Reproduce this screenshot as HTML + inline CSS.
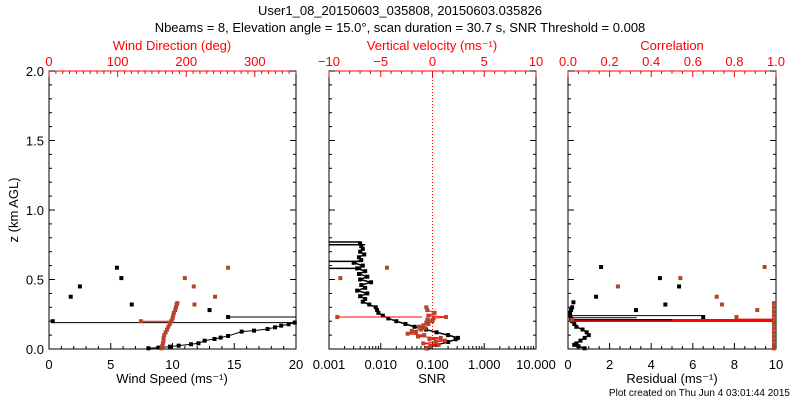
<!DOCTYPE html>
<html><head><meta charset="utf-8"><style>
body{margin:0;background:#fff}
svg{display:block;font-family:"Liberation Sans",sans-serif}
</style></head><body>
<svg id="c" width="800" height="400" viewBox="0 0 800 400">
<text x="400" y="15" text-anchor="middle" font-size="13">User1_08_20150603_035808, 20150603.035826</text>
<text x="400" y="32" text-anchor="middle" font-size="13">Nbeams = 8, Elevation angle = 15.0°, scan duration = 30.7 s, SNR Threshold = 0.008</text>
<text x="790" y="396" text-anchor="end" font-size="10">Plot created on Thu Jun  4 03:01:44 2015</text>
</svg>
<script>
// ---- data ----
const wsScZ=[0.2,0.376,0.45,0.585,0.51,0.32,0.28,0.23];
const wsSc=[0.3,1.76,2.5,5.5,5.86,6.7,13.0,14.5];
const wsProfZ=[0.005,0.01,0.017,0.024,0.034,0.041,0.06,0.072,0.082,0.094,0.125,0.132,0.144,0.156,0.168,0.178,0.19];
const wsProf=[8.05,8.85,9.8,10.5,11.5,12.1,12.6,13.4,13.9,14.5,15.6,16.6,17.7,18.3,18.8,19.4,19.9];
const wsLinkZ=[0.19,0.23];
const wsLinkX0=[0.3,14.5];
const wsLinkX1=[20,20];
const dirZ=[0.005,0.02,0.04,0.06,0.08,0.1,0.12,0.14,0.16,0.18,0.2,0.22,0.24,0.26,0.28,0.3,0.32,0.33];
const dirV=[164,165,166,167,167,168,170,172,174,176,178,180,181,182,184,185,186,187];
const dirScZ=[0.2,0.51,0.45,0.32,0.376,0.585];
const dirSc=[134,198,211,212,242,261];
const snrZ=[0.005,0.03,0.05,0.07,0.08,0.1,0.12,0.14,0.16,0.18,0.2,0.22,0.24,0.26,0.28,0.3,0.32,0.34,0.36,0.38,0.4,0.42,0.44,0.46,0.48,0.5,0.52,0.54,0.56,0.58,0.6,0.62,0.64,0.66,0.68,0.7,0.72,0.74,0.76];
const snrV=[0.078,0.12,0.2,0.28,0.31,0.2,0.12,0.075,0.045,0.03,0.02,0.014,0.011,0.009,0.0085,0.008,0.006,0.0045,0.005,0.004,0.0055,0.0035,0.005,0.0042,0.0065,0.004,0.0055,0.0038,0.005,0.0035,0.0045,0.003,0.0042,0.0038,0.0048,0.004,0.0045,0.0042,0.004];
const snrOffZ=[0.77,0.75,0.63,0.58];
const snrOffV=[0.004,0.005,0.0045,0.0042];
const wZ=[0.005,0.02,0.03,0.04,0.05,0.06,0.07,0.08,0.09,0.1,0.11,0.12,0.13,0.14,0.15,0.16,0.17,0.18,0.19,0.2,0.21,0.22,0.23,0.24,0.26,0.28,0.3];
const wV=[-0.6,-0.2,0.6,-0.9,0.3,1.2,-0.3,0.8,-1.4,-0.8,-2.4,-1.6,-2.0,-1.1,-0.7,-1.3,-0.9,-0.4,-0.6,0.0,-0.5,0.1,1.3,-0.4,0.2,-0.5,-0.6];
const wOutZ=[0.23,0.51,0.585];
const wOut=[-9.2,-8.9,-4.4];
const resScZ=[0.59,0.376,0.51,0.45,0.32,0.28,0.23,0.336];
const resSc=[1.59,1.35,4.42,5.34,4.68,3.27,6.5,0.26];
const resZ=[0.005,0.02,0.03,0.04,0.06,0.08,0.1,0.12,0.14,0.16,0.18,0.2,0.22,0.24,0.26,0.28,0.3];
const resV=[0.8,0.5,0.3,0.4,0.6,0.8,1.0,0.9,0.7,0.4,0.3,0.2,0.15,0.1,0.1,0.15,0.2];
const resLinkZ=[0.24,0.225];
const resLinkX1=[6.5,3.3];
const corScZ=[0.51,0.45,0.376,0.32,0.23,0.28,0.59,0.21];
const corSc=[0.54,0.24,0.715,0.74,0.81,0.91,0.945,0.02];
const corColZ=[0.005,0.03,0.06,0.09,0.12,0.15,0.18,0.21,0.24,0.27,0.3,0.33];
const corColV=[0.99,0.99,0.99,0.99,0.99,0.99,0.99,0.99,0.99,0.99,0.99,0.99];

// ---- drawing ----
const svg=document.getElementById('c');
const NS='http://www.w3.org/2000/svg';
const RED='#ff0000', MRK='#b5452a';
const Y0=349, Y1=71;
const yS=z=>Y0-(z/2)*(Y0-Y1);
function el(t,a,p){const e=document.createElementNS(NS,t);for(const k in a)e.setAttribute(k,a[k]);(p||svg).appendChild(e);return e;}
function lin(x1,y1,x2,y2,c,w){return el('line',{x1,y1,x2,y2,stroke:c,'stroke-width':w||1});}
function txt(x,y,s,c,sz,anc){const t=el('text',{x,y,fill:c,'font-size':sz||13,'text-anchor':anc||'middle'});t.textContent=s;return t;}
function mark(x,y,c){const r=el('rect',{x:x-2,y:y-2,width:4,height:4,fill:c});return r;}

const panels=[{x0:49,x1:296},{x0:329,x1:536},{x0:568,x1:776}];
panels.forEach((p,i)=>{
  const b=el('rect',{x:p.x0,y:Y1,width:p.x1-p.x0,height:Y0-Y1,fill:'none',stroke:'#000'});
  
  
  lin(p.x0,Y1,p.x1,Y1,RED);
  for(let z=0;z<=2.0001;z+=0.1){const maj=Math.abs(z*2-Math.round(z*2))<1e-6;const L=maj?6:3;const y=yS(z);
    lin(p.x0,y,p.x0+L,y,'#000');lin(p.x1,y,p.x1-L,y,'#000');
    if(i==0&&maj){const t=txt(44,y+5,z.toFixed(1),'#000',13,'end');}}
});
const yt=txt(0,0,'z (km AGL)','#000',13);yt.setAttribute('transform','translate(18,210) rotate(-90)');



function linAxis(p,lo,hi,minor,major,top,col,fmt){
  const f=v=>p.x0+(v-lo)/(hi-lo)*(p.x1-p.x0);
  const y=top?Y1:Y0, d=top?1:-1;
  for(let k=0;lo+k*minor<=hi+1e-9;k++){const v=lo+k*minor;const m=Math.abs(v/major-Math.round(v/major))<1e-6;
    lin(f(v),y,f(v),y+d*(m?6:3),col);
    if(m){const t=txt(f(v),top?Y1-5:Y0+20,fmt(v),col,13);}}
  return f;
}
const P=panels;
const fWS=linAxis(P[0],0,20,1,5,false,'#000',v=>String(Math.round(v)));
const fDir=linAxis(P[0],0,360,10,100,true,RED,v=>String(Math.round(v)));
const fW=linAxis(P[1],-10,10,1,5,true,RED,v=>(v<0?'−':'')+Math.abs(Math.round(v)));
const fRes=linAxis(P[2],0,10,0.5,2,false,'#000',v=>String(Math.round(v)));
const fCor=linAxis(P[2],0,1,0.05,0.2,true,RED,v=>v.toFixed(1));
// log axis
const fSNR=v=>P[1].x0+(Math.log10(v)+3)/4*(P[1].x1-P[1].x0);
['0.001','0.010','0.100','1.000','10.000'].forEach((s,k)=>{const v=Math.pow(10,k-3);lin(fSNR(v),Y0,fSNR(v),Y0-6,'#000');
  const t=txt(fSNR(v),Y0+20,s,'#000',13);
  if(k<4)for(let m=2;m<10;m++){const x=fSNR(v*m);lin(x,Y0,x,Y0-3,'#000');}});
// axis titles
[[172,'Wind Direction (deg)',RED,50],[432,'Vertical velocity (ms⁻¹)',RED,50],[672,'Correlation',RED,50],[172,'Wind Speed (ms⁻¹)','#000',383],[432,'SNR','#000',383],[672,'Residual (ms⁻¹)','#000',383]].forEach(a=>{
  const t=txt(a[0],a[3],a[1],a[2],13);});
// zero line vertical velocity
const zl=el('line',{x1:fW(0),y1:Y1,x2:fW(0),y2:Y0,stroke:RED,'stroke-dasharray':'1,2'});


// panel 1
wsLinkZ.forEach((z,i)=>lin(fWS(wsLinkX0[i]),yS(z),fWS(wsLinkX1[i]),yS(z),'#000'));
lin(fDir(134),yS(0.2),fDir(182),yS(0.2),RED);
for(let i=1;i<wsProf.length;i++)lin(fWS(wsProf[i-1]),yS(wsProfZ[i-1]),fWS(wsProf[i]),yS(wsProfZ[i]),'#000');
wsProf.forEach((v,i)=>{const m=mark(fWS(v),yS(wsProfZ[i]),'#000');});
wsSc.forEach((v,i)=>{const m=mark(fWS(v),yS(wsScZ[i]),'#000');});
dirV.forEach((v,i)=>{const m=mark(fDir(v),yS(dirZ[i]),MRK);});
dirSc.forEach((v,i)=>{const m=mark(fDir(v),yS(dirScZ[i]),MRK);});

// panel 2
snrOffZ.forEach((z,i)=>lin(P[1].x0,yS(z),fSNR(snrOffV[i]),yS(z),'#000',1.5));
for(let i=1;i<snrV.length;i++)lin(fSNR(snrV[i-1]),yS(snrZ[i-1]),fSNR(snrV[i]),yS(snrZ[i]),'#000',1.5);
snrV.forEach((v,i)=>{const m=mark(fSNR(v),yS(snrZ[i]),'#000');});
lin(fW(-9.2),yS(0.23),fW(-1),yS(0.23),RED);
for(let i=1;i<wV.length;i++)lin(fW(wV[i-1]),yS(wZ[i-1]),fW(wV[i]),yS(wZ[i]),RED);
wV.forEach((v,i)=>{const m=mark(fW(v),yS(wZ[i]),MRK);});
wOut.forEach((v,i)=>{const m=mark(fW(v),yS(wOutZ[i]),MRK);});

// panel 3
resLinkZ.forEach((z,i)=>lin(fRes(0.2),yS(z),fRes(resLinkX1[i]),yS(z),'#000'));
lin(fRes(0.2),yS(0.205),fRes(10),yS(0.205),RED,3);
lin(fRes(8.1),yS(0.215),fRes(10),yS(0.215),RED);
lin(fRes(0.2),yS(0.21),fRes(5),yS(0.21),'#000');
for(let i=1;i<resV.length;i++)lin(fRes(resV[i-1]),yS(resZ[i-1]),fRes(resV[i]),yS(resZ[i]),'#000',1.5);
resV.forEach((v,i)=>{const m=mark(fRes(v),yS(resZ[i]),'#000');});
resSc.forEach((v,i)=>{const m=mark(fRes(v),yS(resScZ[i]),'#000');});
corColV.forEach((v,i)=>{const m=mark(fCor(v),yS(corColZ[i]),MRK);});
corSc.forEach((v,i)=>{const m=mark(fCor(v),yS(corScZ[i]),MRK);});
</script>
</body></html>
